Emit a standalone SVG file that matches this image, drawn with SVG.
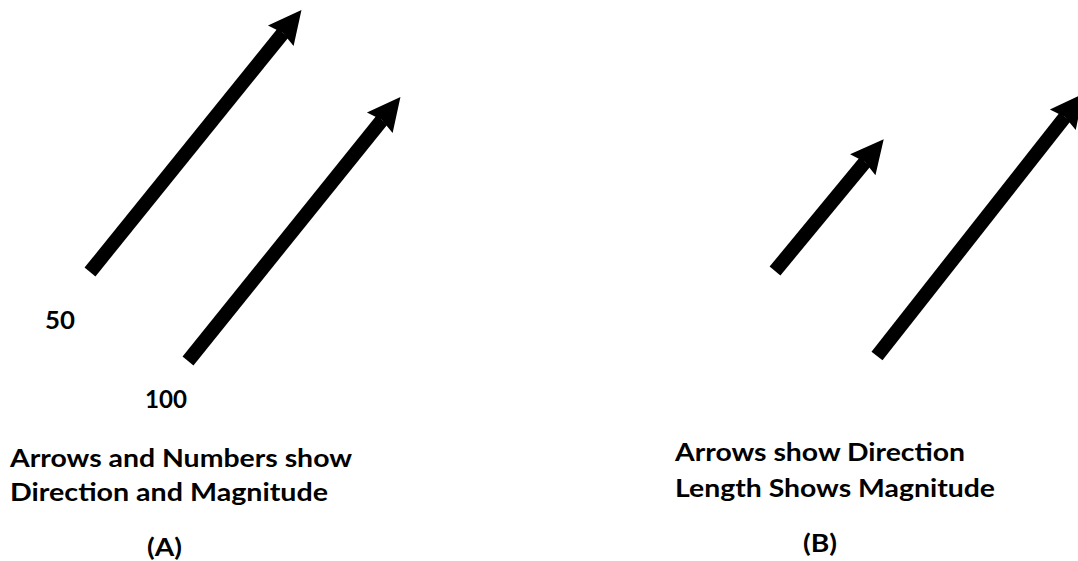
<svg xmlns="http://www.w3.org/2000/svg" width="1078" height="561" viewBox="0 0 1078 561">
<style>
.t{font-family:Lato,"Liberation Sans",sans-serif;font-weight:bold;font-size:24px;fill:#000}
.ln{stroke:#000;stroke-width:14;fill:none;marker-end:url(#ah)}
</style>
<defs>
<marker id="ah" markerUnits="userSpaceOnUse" markerWidth="40" markerHeight="40" viewBox="-6 -16 34 32" refX="0" refY="0" orient="auto">
<path d="M-3,-14 L25,0 L-3,14 L0,0 Z" fill="#000"/>
</marker>
</defs>
<rect width="1078" height="561" fill="#fff"/>
<g id="connectors">
<line class="ln" x1="90" y1="272" x2="283" y2="33"/>
<line class="ln" x1="188" y1="361" x2="382" y2="120"/>
<line class="ln" x1="775" y1="271" x2="865" y2="162"/>
<line class="ln" x1="877" y1="356" x2="1065" y2="117"/>
</g>
<g id="label-50"><text class="t" x="45" y="329" textLength="30" lengthAdjust="spacingAndGlyphs">50</text></g>
<g id="label-100"><text class="t" x="145" y="408" textLength="42" lengthAdjust="spacingAndGlyphs">100</text></g>
<g id="caption-a">
<text class="t" x="10" y="467" textLength="342" lengthAdjust="spacingAndGlyphs">Arrows and Numbers show</text>
<text class="t" x="10" y="501" textLength="318" lengthAdjust="spacingAndGlyphs">Direction and Magnitude</text>
<text class="t" x="147" y="556" textLength="35" lengthAdjust="spacingAndGlyphs">(A)</text>
</g>
<g id="caption-b">
<text class="t" x="675" y="461" textLength="290" lengthAdjust="spacingAndGlyphs">Arrows show Direction</text>
<text class="t" x="675" y="497" textLength="320" lengthAdjust="spacingAndGlyphs">Length Shows Magnitude</text>
<text class="t" x="803" y="552" textLength="34" lengthAdjust="spacingAndGlyphs">(B)</text>
</g>
</svg>
